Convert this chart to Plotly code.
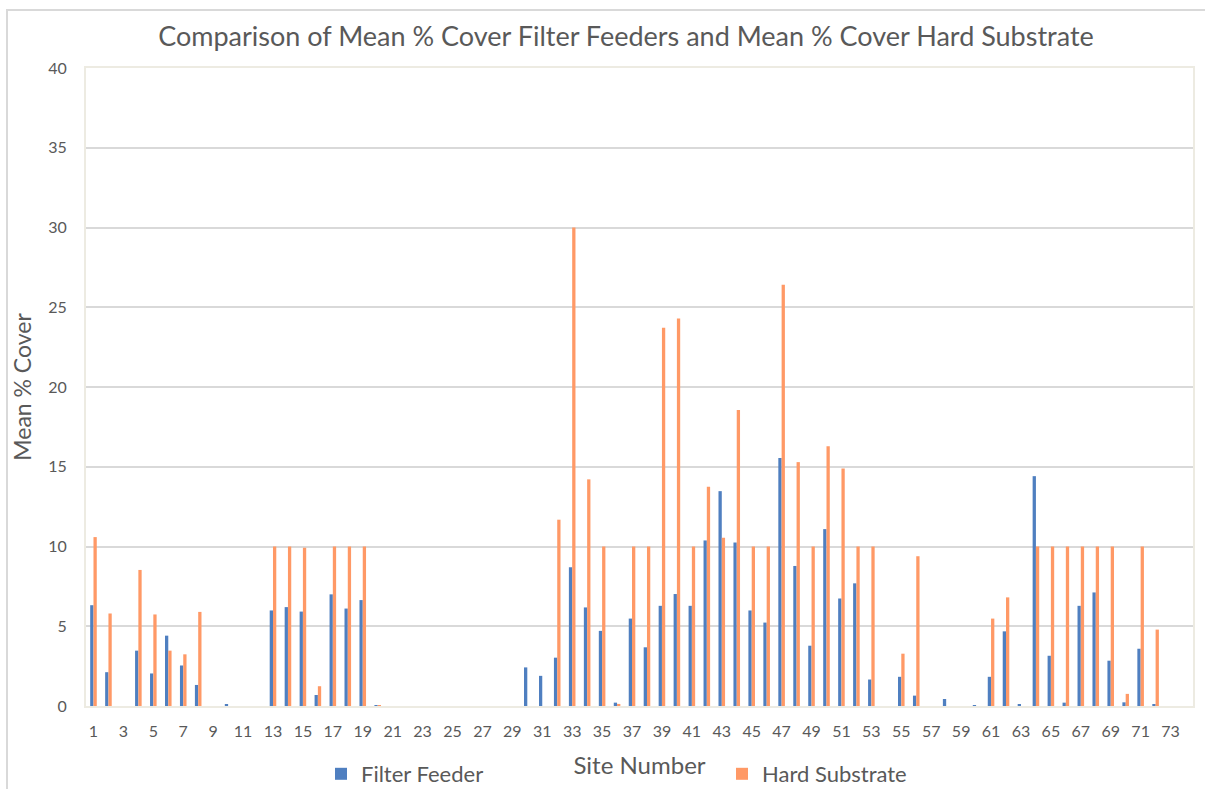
import plotly.graph_objects as go

sites = list(range(1, 75))
filter_feeder = [6.32, 2.12, 0, 3.47, 2.04, 4.41, 2.54, 1.32, 0, 0.08,
                 0, 0, 5.99, 6.20, 5.92, 0.69, 7.00, 6.11, 6.64, 0.03,
                 0, 0, 0, 0, 0, 0, 0, 0, 0, 2.42,
                 1.89, 3.03, 8.70, 6.18, 4.71, 0.21, 5.48, 3.68, 6.28, 7.02,
                 6.28, 10.38, 13.47, 10.25, 5.99, 5.23, 15.55, 8.78, 3.78, 11.09,
                 6.74, 7.69, 1.66, 0, 1.83, 0.65, 0, 0.44, 0, 0.03,
                 1.83, 4.68, 0.08, 14.41, 3.15, 0.21, 6.28, 7.12, 2.84, 0.23,
                 3.59, 0.08, 0, 0]
hard_substrate = [10.59, 5.80, 0, 8.53, 5.74, 3.47, 3.24, 5.90, 0, 0,
                  0, 0, 10.0, 10.0, 9.92, 1.24, 10.0, 10.0, 10.0, 0.06,
                  0, 0, 0, 0, 0, 0, 0, 0, 0, 0,
                  0, 11.68, 30.0, 14.21, 10.0, 0.13, 10.0, 10.0, 23.72, 24.30,
                  10.0, 13.74, 10.55, 18.56, 10.0, 10.0, 26.41, 15.29, 10.0, 16.28,
                  14.89, 10.0, 10.0, 0, 3.28, 9.39, 0, 0, 0, 0,
                  5.48, 6.81, 0, 10.0, 10.0, 10.0, 10.0, 10.0, 10.0, 0.76,
                  10.0, 4.79, 0, 0]
x_ticks = list(range(1, 74, 2))
y_ticks = list(range(0, 41, 5))

FONT = "Lato"
TXT = "#595959"
BLUE = "#4F7FC0"
ORANGE = "#FF9966"

fig = go.Figure()
fig.add_trace(go.Bar(x=sites, y=filter_feeder, name="Filter Feeder",
                     marker=dict(color=BLUE, line=dict(width=0))))
fig.add_trace(go.Bar(x=sites, y=hard_substrate, name="Hard Substrate",
                     marker=dict(color=ORANGE, line=dict(width=0))))

fig.update_layout(
    width=1205, height=789,
    margin=dict(l=86, r=12, t=68, b=83, autoexpand=False),
    paper_bgcolor="white", plot_bgcolor="white",
    barmode="group", bargap=0.56, bargroupgap=0,
    font=dict(family=FONT, color=TXT, size=16),
    title=dict(text="Comparison of Mean % Cover Filter Feeders and Mean % Cover Hard Substrate",
               x=626/1205, xanchor="center", y=1-37/789, yanchor="middle",
               font=dict(family=FONT, size=27, color=TXT)),
    xaxis=dict(range=[0.5, 74.5], tickmode="array", tickvals=x_ticks,
               ticktext=[str(v) for v in x_ticks], automargin=False,
               showgrid=False, zeroline=False,
               showline=True, linecolor="#EDEBE2", linewidth=2, mirror=True,
               ticks="outside", ticklen=10, tickcolor="rgba(0,0,0,0)",
               tickfont=dict(size=16, color=TXT),
               title=dict(text="Site Number", font=dict(size=24, color=TXT), standoff=18)),
    yaxis=dict(range=[0, 40], tickmode="array", tickvals=y_ticks, automargin=False,
               showgrid=True, gridcolor="#D9D9D9", gridwidth=2, zeroline=False,
               showline=True, linecolor="#EDEBE2", linewidth=2, mirror=True,
               ticks="outside", ticklen=14, tickcolor="rgba(0,0,0,0)",
               tickfont=dict(size=16, color=TXT),
               title=dict(text="Mean % Cover", font=dict(size=23, color=TXT), standoff=10)),
    legend=dict(orientation="h", x=(321-86)/1107, xanchor="left",
                y=(706-774)/638, yanchor="middle", itemwidth=30,
                entrywidth=356, entrywidthmode="pixels",
                font=dict(size=22, color=TXT), bgcolor="rgba(0,0,0,0)"),
    shapes=[dict(type="rect", xref="paper", yref="paper",
                 x0=(7-86)/1107, x1=(1215-86)/1107,
                 y0=(706-800)/638, y1=(706-10)/638,
                 line=dict(color="#D9D9D9", width=2), layer="below")],
)

fig.write_html("out.html")
